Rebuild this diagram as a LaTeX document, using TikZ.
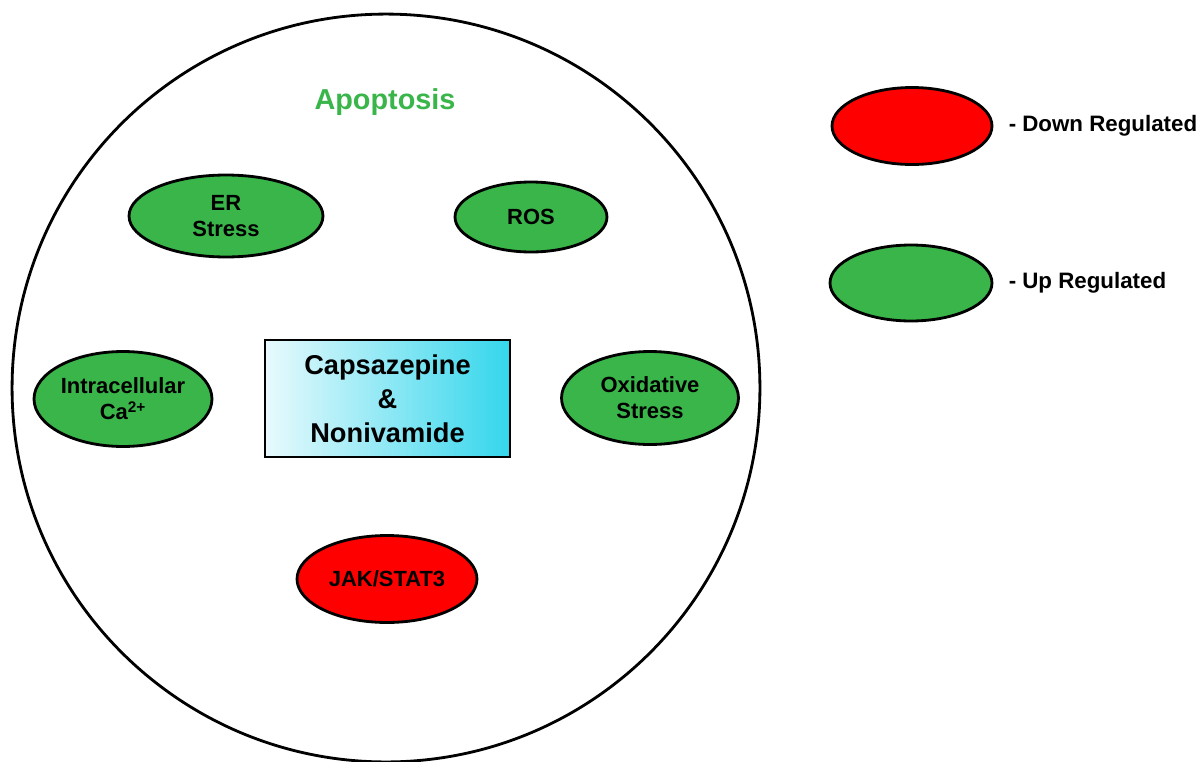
\documentclass[tikz,border=0pt]{standalone}
\usepackage{fontspec}
\setmainfont{Liberation Sans}
\usetikzlibrary{shapes.geometric, positioning}

\definecolor{upgreen}{RGB}{57,181,74}
\definecolor{downred}{RGB}{255,0,0}
\definecolor{boxcyan}{RGB}{52,214,236}
\definecolor{boxlight}{RGB}{232,250,253}

\tikzset{
	marker/.style={ellipse, draw=black, line width=1.6pt, inner sep=0pt, align=center,
		font=\fontsize{12.5}{14.8}\selectfont\bfseries},
	upmark/.style={marker, fill=upgreen},
	downmark/.style={marker, fill=downred},
	drugbox/.style={rectangle, draw=black, line width=1.6pt, left color=boxlight, right color=boxcyan,
		minimum width=4.9cm, minimum height=2.34cm, align=center, inner sep=0pt,
		font=\fontsize{15.5}{19.3}\selectfont\bfseries},
	keytext/.style={inner sep=0pt, font=\fontsize{12.7}{15}\selectfont\bfseries}
}

\begin{document}
\begin{tikzpicture}[x=0.02cm, y=-0.02cm]
			\useasboundingbox (0,0) rectangle (1200,761);
			\draw[line width=1.6pt] (386,388) circle [radius=7.48cm];
			\node[text=upgreen, font=\fontsize{16.4}{18}\selectfont\bfseries] (apop) at (385,102) {Apoptosis};
			\node[upmark, minimum width=3.88cm, minimum height=1.64cm] (er) at (226,216) {ER\\Stress};
			\node[upmark, minimum width=3.04cm, minimum height=1.4cm] (ros) at (531,217) {ROS};
			\node[upmark, minimum width=3.56cm, minimum height=1.9cm] (calc) at (123,399) {Intracellular\\Ca\textsuperscript{2+}};
			\node[upmark, minimum width=3.54cm, minimum height=1.86cm] (oxid) at (650,398) {Oxidative\\Stress};
			\node[drugbox] (drug) at (387.5,398.5) {Capsazepine\\\&\\Nonivamide};
			\node[downmark, minimum width=3.6cm, minimum height=1.74cm] (jak) at (387,579) {JAK/STAT3};
			% legend
			\node[downmark, minimum width=3.2cm, minimum height=1.54cm] (downkey) at (912,126) {};
			\node[upmark, minimum width=3.24cm, minimum height=1.52cm] (upkey) at (911,283) {};
			\node[keytext, right=0.3cm of downkey] (downtxt) {- Down Regulated};
			\node[keytext, right=0.3cm of upkey] (uptxt) {- Up Regulated};
\end{tikzpicture}
\end{document}
